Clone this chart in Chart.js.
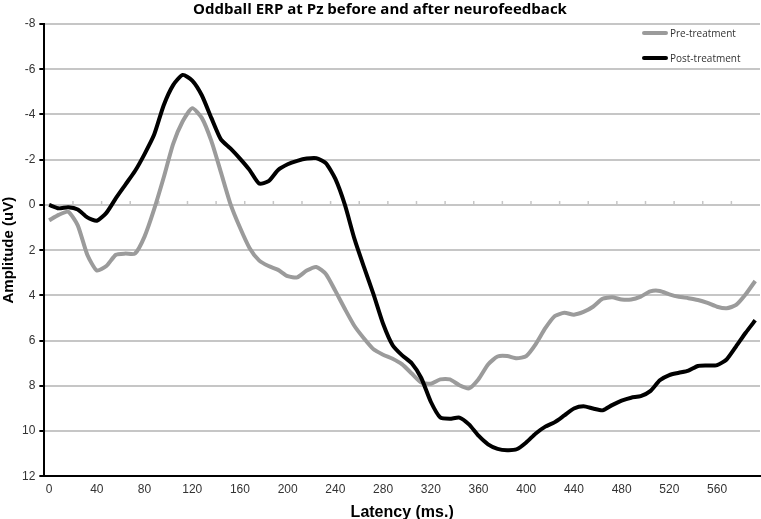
<!DOCTYPE html>
<html>
<head>
<meta charset="utf-8">
<script src="https://cdn.jsdelivr.net/npm/chart.js@4.4.1/dist/chart.umd.min.js"></script>
<style>
  html, body { margin: 0; padding: 0; background: #fff; }
  #wrap { width: 761px; height: 519px; }
</style>
</head>
<body>
<div id="wrap"><canvas id="erpChart"></canvas></div>
<script>
// latency (ms) of each sample
const latency = [0, 8, 16, 24, 32, 40, 48, 56, 64, 72, 80, 88, 96, 104, 112, 120, 128, 136, 144, 152,
  160, 168, 176, 184, 192, 200, 208, 216, 224, 232, 240, 248, 256, 264, 272, 280, 288, 296, 304, 312,
  320, 328, 336, 344, 352, 360, 368, 376, 384, 392, 400, 408, 416, 424, 432, 440, 448, 456, 464, 472,
  480, 488, 496, 504, 512, 520, 528, 536, 544, 552, 560, 568, 576, 584, 592];

// amplitude (uV), pre-treatment
const preTreatment = [0.68, 0.44, 0.3, 0.9, 2.2, 2.9, 2.7, 2.2, 2.15, 2.15, 1.4, 0.2, -1.2, -2.7, -3.7, -4.28, -3.85, -2.83, -1.45, -0.05,
  1.0, 1.9, 2.45, 2.7, 2.87, 3.15, 3.2, 2.9, 2.74, 3.05, 3.8, 4.6, 5.35, 5.9, 6.38, 6.62, 6.8, 7.05, 7.45, 7.85,
  7.9, 7.71, 7.71, 7.97, 8.11, 7.7, 7.05, 6.7, 6.68, 6.78, 6.68, 6.15, 5.45, 4.91, 4.77, 4.85, 4.73, 4.5, 4.15, 4.08,
  4.18, 4.18, 4.05, 3.82, 3.8, 3.95, 4.06, 4.12, 4.2, 4.33, 4.5, 4.57, 4.42, 3.95, 3.36];

// amplitude (uV), post-treatment
const postTreatment = [0.0, 0.15, 0.1, 0.2, 0.55, 0.7, 0.35, -0.3, -0.9, -1.5, -2.25, -3.1, -4.4, -5.3, -5.75, -5.5, -4.85, -3.85, -2.9, -2.5,
  -2.05, -1.55, -0.95, -1.05, -1.55, -1.8, -1.95, -2.05, -2.07, -1.85, -1.15, 0.0, 1.5, 2.75, 3.95, 5.25, 6.2, 6.65, 7.0, 7.65,
  8.7, 9.4, 9.45, 9.4, 9.7, 10.2, 10.58, 10.78, 10.84, 10.8, 10.5, 10.1, 9.8, 9.6, 9.3, 9.0, 8.9, 9.0, 9.08, 8.85,
  8.65, 8.52, 8.45, 8.23, 7.75, 7.52, 7.42, 7.32, 7.12, 7.1, 7.08, 6.83, 6.25, 5.65, 5.1];

const seriesNames = ['Pre-treatment', 'Post-treatment'];

// axis tick labels
const xTicks = [0, 40, 80, 120, 160, 200, 240, 280, 320, 360, 400, 440, 480, 520, 560];
const yTicks = [-8, -6, -4, -2, 0, 2, 4, 6, 8, 10, 12];

const toPoints = (vals) => vals.map((v, i) => ({ x: latency[i], y: v }));

// small tick marks sitting on the zero line
const zeroTicks = {
  id: 'zeroTicks',
  beforeDatasetsDraw(chart) {
    const { ctx, scales: { x, y } } = chart;
    const y0 = y.getPixelForValue(0);
    ctx.save();
    ctx.strokeStyle = '#c6c6c6';
    ctx.lineWidth = 1.5;
    for (let v = 20; v < x.max; v += 24) {
      const px = x.getPixelForValue(v);
      ctx.beginPath();
      ctx.moveTo(px, y0);
      ctx.lineTo(px, y0 - 4);
      ctx.stroke();
    }
    ctx.restore();
  }
};

// legend drawn inside the plot, top right
const insideLegend = {
  id: 'insideLegend',
  afterDatasetsDraw(chart) {
    const { ctx, chartArea } = chart;
    const sets = chart.data.datasets;
    ctx.save();
    ctx.font = '10px "Open Sans"';
    ctx.textBaseline = 'middle';
    ctx.lineCap = 'round';
    sets.forEach((ds, i) => {
      const yy = chartArea.top + 9 + i * 25;
      const x0 = chartArea.right - 116;
      ctx.strokeStyle = ds.borderColor;
      ctx.lineWidth = 4;
      ctx.beginPath();
      ctx.moveTo(x0, yy);
      ctx.lineTo(x0 + 22, yy);
      ctx.stroke();
      ctx.fillStyle = '#333';
      ctx.fillText(ds.label, x0 + 26, yy + 1);
    });
    ctx.restore();
  }
};

new Chart(document.getElementById('erpChart'), {
  type: 'line',
  data: {
    datasets: [{
      label: seriesNames[0],
      data: toPoints(preTreatment),
      borderColor: '#9b9b9b',
      borderWidth: 4,
      pointRadius: 0,
      tension: 0.2,
      borderJoinStyle: 'round',
      order: 2
    }, {
      label: seriesNames[1],
      data: toPoints(postTreatment),
      borderColor: '#000000',
      borderWidth: 4,
      pointRadius: 0,
      tension: 0.2,
      borderJoinStyle: 'round',
      order: 1
    }]
  },
  options: {
    responsive: true,
    maintainAspectRatio: false,
    animation: false,
    layout: {
      padding: { top: 0, right: 1, bottom: -3, left: 0 }
    },
    plugins: {
      legend: { display: false },
      tooltip: { enabled: false },
      title: {
        display: true,
        text: 'Oddball ERP at Pz before and after neurofeedback',
        color: '#000',
        font: { family: '"Open Sans"', size: 15, weight: 'bold' },
        padding: { top: 1, bottom: 5 }
      }
    },
    scales: {
      x: {
        type: 'linear',
        min: -4,
        max: 596,
        afterBuildTicks: (axis) => { axis.ticks = xTicks.map(v => ({ value: v })); },
        grid: { display: false, drawTicks: false },
        border: { display: true, color: '#000', width: 2 },
        ticks: {
          color: '#333',
          padding: 6,
          maxRotation: 0,
          autoSkip: false,
          font: { family: '"Liberation Sans"', size: 12 }
        },
        title: {
          display: true,
          text: 'Latency (ms.)',
          color: '#000',
          font: { family: '"Liberation Sans"', size: 16, weight: 'bold' },
          padding: { top: 0, bottom: 0 }
        }
      },
      y: {
        reverse: true,
        min: -8,
        max: 12,
        afterBuildTicks: (axis) => { axis.ticks = yTicks.map(v => ({ value: v })); },
        grid: {
          color: '#c6c6c6',
          lineWidth: 2,
          drawTicks: true,
          tickLength: 5,
          tickColor: '#000',
          tickWidth: 2
        },
        border: { display: true, color: '#000', width: 2 },
        ticks: {
          color: '#333',
          padding: 4,
          font: { family: '"Liberation Sans"', size: 12 }
        },
        title: {
          display: true,
          text: 'Amplitude (uV)',
          color: '#000',
          font: { family: '"Liberation Sans"', size: 15, weight: 'bold' },
          padding: { top: 0, bottom: 0 }
        }
      }
    }
  },
  plugins: [zeroTicks, insideLegend]
});
</script>
</body>
</html>
